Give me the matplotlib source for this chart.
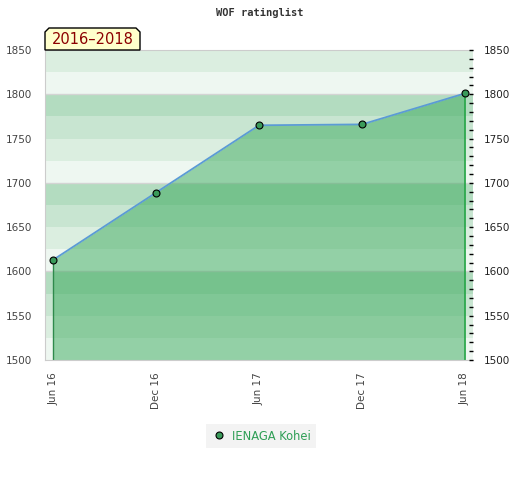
import matplotlib
matplotlib.use('Agg')
import matplotlib.pyplot as plt
from matplotlib.patches import Polygon

# rating list data
months = [0, 6, 12, 18, 24]
tick_labels = ['Jun 16', 'Dec 16', 'Jun 17', 'Dec 17', 'Jun 18']
ratings = [1613, 1689, 1765, 1766, 1801]
player = 'IENAGA Kohei'
period = '2016\u20132018'

y_min, y_max = 1500, 1850
band_colors = ['#eef7f1', '#dbeee0', '#c8e5d1', '#b3dcc0']  # bottom -> top inside each 100


def main():
    fig = plt.figure(figsize=(5.2, 4.8), dpi=100)
    ax = fig.add_axes([45 / 520, 1 - 360 / 480, 428 / 520, 310 / 480])

    # striped background, 25 points per band
    for lo in range(y_min, y_max, 25):
        ax.axhspan(lo, lo + 25, color=band_colors[(lo % 100) // 25], lw=0, zorder=0)
    for g in range(y_min + 100, y_max, 100):
        ax.axhline(g, color='#d4d4d4', lw=1, zorder=0.5)

    ax.fill_between(months, ratings, y_min, color='#3aaa5c', alpha=0.5, lw=0, zorder=1)
    ax.vlines(months[0], y_min, ratings[0], color='#2f8a4c', lw=1, zorder=2)
    ax.vlines(months[-1], y_min, ratings[-1], color='#27a648', lw=1.2, zorder=2)
    ax.plot(months, ratings, color='#5b9bd5', lw=1.3, zorder=3)
    ax.plot(months, ratings, 'o', ms=5, mfc='#3a9a5a', mec='black', mew=0.8, zorder=4,
            label=player)

    ax.set_xlim(-0.47, 24.47)
    ax.set_ylim(y_min, y_max)
    ax.set_xticks(months)
    ax.set_xticklabels(tick_labels, rotation=90, fontsize=7.5, color='#444444')
    ax.set_yticks(range(y_min, y_max + 1, 50))
    ax.tick_params(axis='y', length=0, pad=9, labelsize=7.5, labelcolor='#444444')
    ax.tick_params(axis='x', length=0, pad=9)
    for s in ['top', 'left', 'bottom']:
        ax.spines[s].set_color('#cccccc')
    ax.spines['right'].set_visible(False)

    ax2 = ax.twinx()
    ax2.set_ylim(y_min, y_max)
    ax2.set_yticks(range(y_min, y_max + 1, 50))
    ax2.set_yticks(range(y_min, y_max + 1, 10), minor=True)
    ax2.tick_params(axis='y', which='both', direction='in', length=3, width=1,
                    color='black', labelsize=7.5, labelcolor='#222222', pad=8)
    for s in ax2.spines.values():
        s.set_visible(False)

    fig.text(0.5, 1 - 13 / 480, 'WOF ratinglist', ha='center', va='center',
             fontsize=7.5, fontweight='bold', family='DejaVu Sans Mono', color='#333333')

    # period label with chamfered top corners
    x0, x1 = 45 / 520, 140 / 520
    y0, y1 = 1 - 50 / 480, 1 - 28 / 480
    c = 4 / 520
    cy = 4 / 480
    tag = Polygon([(x0, y0), (x0, y1 - cy), (x0 + c, y1), (x1 - c, y1), (x1, y1 - cy), (x1, y0)],
                  closed=True, transform=fig.transFigure, facecolor='#ffffcc',
                  edgecolor='black', lw=1)
    fig.patches.append(tag)
    fig.text((x0 + x1) / 2, (y0 + y1) / 2 - 0.002, period, ha='center', va='center',
             fontsize=10.5, color='#8b0000')

    leg = ax.legend(loc='center', bbox_to_anchor=(261 / 520, 1 - 436 / 480),
                    bbox_transform=fig.transFigure, frameon=True, fontsize=8.3,
                    handletextpad=0.4, handlelength=1.4, borderpad=0.45)
    leg.get_frame().set_facecolor('#f0f0f0')
    leg.get_frame().set_edgecolor('none')
    leg.get_frame().set_boxstyle('square', pad=0)
    for t in leg.get_texts():
        t.set_color('#2e9e55')

    fig.savefig('out.png', dpi=100)


if __name__ == '__main__':
    main()
